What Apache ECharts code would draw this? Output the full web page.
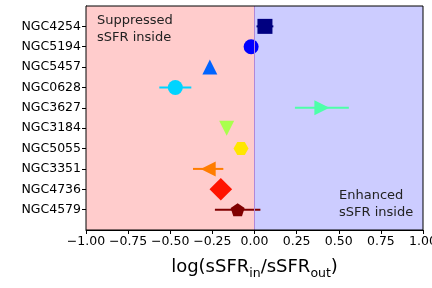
<!DOCTYPE html>
<html><head><meta charset="utf-8">
<script src="https://cdn.jsdelivr.net/npm/echarts@6/dist/echarts.min.js"></script>
<style>html,body{margin:0;padding:0;background:#fff}#c{width:432px;height:288px}</style>
</head><body><div id="c"></div>
<script>
const galaxies = ['NGC4254','NGC5194','NGC5457','NGC0628','NGC3627','NGC3184','NGC5055','NGC3351','NGC4736','NGC4579'];
const xValues = [0.062, -0.02, -0.265, -0.47, 0.40, -0.165, -0.08, -0.275, -0.20, -0.10];
const xErrors = [0.05, 0.0, 0.0, 0.095, 0.16, 0.0, 0.0, 0.09, 0.0, 0.135];
const xTicks = [-1.0, -0.75, -0.5, -0.25, 0.0, 0.25, 0.5, 0.75, 1.0];

const colors = ['#000080','#0000ff','#0063ff','#00d4ff','#4dffa9','#a9ff4d','#ffe600','#ff7d00','#ff1400','#800000'];
const hexPath = 'path://M-1,0 L-0.5,-0.866 L0.5,-0.866 L1,0 L0.5,0.866 L-0.5,0.866Z';
const pentPath = 'path://M0,-1 L0.951,-0.309 L0.588,0.809 L-0.588,0.809 L-0.951,-0.309Z';
const symbols = [
  {symbol:'rect', size:15, rot:0},
  {symbol:'circle', size:15, rot:0},
  {symbol:'triangle', size:15, rot:0},
  {symbol:'circle', size:15, rot:0},
  {symbol:'triangle', size:15, rot:-90},
  {symbol:'triangle', size:15, rot:180},
  {symbol:hexPath, size:[15,13], rot:0},
  {symbol:'triangle', size:15, rot:90},
  {symbol:'rect', size:16, rot:45},
  {symbol:pentPath, size:[14,13], rot:0}
];

const font = 'DejaVu Sans';
const chart = echarts.init(document.getElementById('c'), null, {renderer:'canvas'});

const scatterData = galaxies.map((g,i)=>({
  value:[xValues[i], i],
  symbol: symbols[i].symbol,
  symbolSize: symbols[i].size,
  symbolRotate: symbols[i].rot,
  itemStyle:{color:colors[i], opacity:1}
}));
const errData = galaxies.map((g,i)=>[xValues[i], i, xErrors[i]]);

chart.setOption({
  animation:false,
  grid:{left:86, right:9, top:6, bottom:58, containLabel:false, outerBoundsMode:'none'},
  xAxis:{
    type:'value', min:-1, max:1, interval:0.25,
    axisLine:{show:true, onZero:false, lineStyle:{color:'#000', width:1}},
    axisTick:{show:true, length:4, lineStyle:{color:'#000'}},
    splitLine:{show:false},
    axisLabel:{color:'#000', fontFamily:font, fontSize:12.5, margin:5, hideOverlap:false,
      formatter:v=>v.toFixed(2).replace('-','\u2212')},
    name:'{a|log(sSFR}{s|in}{a|/sSFR}{s|out}{a|)}',
    nameLocation:'middle', nameGap:24,
    nameTextStyle:{
      rich:{
        a:{fontFamily:font, fontSize:18, color:'#000', verticalAlign:'bottom', lineHeight:22},
        s:{fontFamily:font, fontSize:12.5, color:'#000', verticalAlign:'bottom', lineHeight:16, padding:[0,0,-4,0]}
      }
    }
  },
  yAxis:{
    type:'value', min:-1, max:10, interval:1, inverse:true,
    axisLine:{show:true, onZero:false, lineStyle:{color:'#000'}},
    axisTick:{show:true, length:4, lineStyle:{color:'#000'}, customValues:[0,1,2,3,4,5,6,7,8,9]},
    axisLabel:{color:'#000', fontFamily:font, fontSize:12.5, margin:5,
      customValues:[0,1,2,3,4,5,6,7,8,9],
      formatter:v=>galaxies[v]!==undefined?galaxies[v]:''},
    splitLine:{show:false}
  },
  series:[
    {
      type:'line', data:[], silent:true,
      markArea:{silent:true,
        data:[
          [{xAxis:-1, yAxis:-1, itemStyle:{color:'#ffcccc'}},{xAxis:0, yAxis:10}],
          [{xAxis:0, yAxis:-1, itemStyle:{color:'#ccccff'}},{xAxis:1, yAxis:10}]
        ]},
      markLine:{silent:true, symbol:'none', label:{show:false},
        lineStyle:{color:'#b088d8', width:1, type:'solid'},
        data:[{xAxis:0}]}
    },
    {
      type:'custom', z:3, data:errData,
      renderItem:(params, api)=>{
        const x=api.value(0), y=api.value(1), e=api.value(2);
        if(!e) return null;
        const p1=api.coord([x-e,y]), p2=api.coord([x+e,y]);
        return {type:'line', shape:{x1:p1[0],y1:p1[1],x2:p2[0],y2:p2[1]},
          style:{stroke:colors[params.dataIndex], lineWidth:2}};
      }
    },
    {type:'scatter', z:4, data:scatterData}
  ],
  graphic:[
    {type:'rect', shape:{x:86,y:6,width:337,height:224}, style:{fill:'none', stroke:'#000', lineWidth:1}, z:10, silent:true},
    {type:'text', left:97, top:12, style:{text:'Suppressed\nsSFR inside', font:'13px "DejaVu Sans"', fill:'#222', lineHeight:17}, z:10},
    {type:'text', left:339, top:187, style:{text:'Enhanced\nsSFR inside', font:'13px "DejaVu Sans"', fill:'#222', lineHeight:17}, z:10}
  ]
});
</script></body></html>
